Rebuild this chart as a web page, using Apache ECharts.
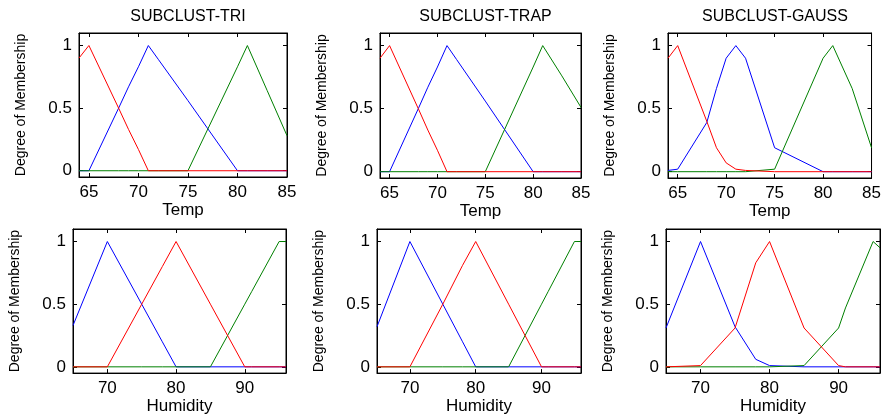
<!DOCTYPE html>
<html>
<head>
<meta charset="utf-8">
<script src="https://cdn.jsdelivr.net/npm/echarts@6/dist/echarts.min.js"></script>
<style>
html,body{margin:0;padding:0;background:#fff;}
#chart{width:884px;height:416px;}
</style>
</head>
<body>
<div id="chart"></div>
<script>
// ---- data ----
const panelTitles = ['SUBCLUST-TRI', 'SUBCLUST-TRAP', 'SUBCLUST-GAUSS'];
const tempX = [64, 65, 68, 69, 70, 71, 72, 75, 80, 81, 83, 85];
const humX  = [65, 70, 75, 78, 80, 85, 90, 91, 95, 96];
const tempTicks = [65, 70, 75, 80, 85];
const humTicks = [70, 80, 90];
const yTicks = [0, 0.5, 1];

// Temp - triangular
const triTempRed   = [0.9, 1, 0.5, 0.33, 0.17, 0, 0, 0, 0, 0, 0, 0];
const triTempBlue  = [0, 0, 0.5, 0.67, 0.83, 1, 0.89, 0.56, 0, 0, 0, 0];
const triTempGreen = [0, 0, 0, 0, 0, 0, 0, 0, 0.83, 1, 0.64, 0.28];
// Temp - trapezoidal
const trapTempRed   = [0.9, 1, 0.5, 0.33, 0.17, 0, 0, 0, 0, 0, 0, 0];
const trapTempBlue  = [0, 0, 0.5, 0.67, 0.83, 1, 0.89, 0.56, 0, 0, 0, 0];
const trapTempGreen = [0, 0, 0, 0, 0, 0, 0, 0, 0.83, 1, 0.76, 0.51];
// Temp - gaussian
const gaussTempRed   = [0.9, 1, 0.4, 0.19, 0.07, 0.02, 0.01, 0, 0, 0, 0, 0];
const gaussTempBlue  = [0.01, 0.02, 0.39, 0.66, 0.9, 1, 0.9, 0.19, 0, 0, 0, 0];
const gaussTempGreen = [0, 0, 0, 0, 0, 0, 0, 0.02, 0.9, 1, 0.66, 0.19];
// Humidity - triangular
const triHumBlue  = [0.33, 1, 0.5, 0.2, 0, 0, 0, 0, 0, 0];
const triHumRed   = [0, 0, 0.5, 0.8, 1, 0.5, 0, 0, 0, 0];
const triHumGreen = [0, 0, 0, 0, 0, 0, 0.5, 0.6, 1, 1];
// Humidity - trapezoidal
const trapHumBlue  = [0.32, 1, 0.5, 0.2, 0, 0, 0, 0, 0, 0];
const trapHumRed   = [0, 0, 0.5, 0.81, 1, 0.5, 0, 0, 0, 0];
const trapHumGreen = [0, 0, 0, 0, 0, 0, 0.5, 0.6, 1, 1];
// Humidity - gaussian
const gaussHumBlue  = [0.31, 1, 0.32, 0.06, 0.01, 0, 0, 0, 0, 0];
const gaussHumRed   = [0, 0.01, 0.31, 0.83, 1, 0.31, 0.01, 0, 0, 0];
const gaussHumGreen = [0, 0, 0, 0, 0, 0.01, 0.31, 0.47, 1, 0.95];

// ---- layout ----
const FONT = '"Liberation Sans", Arial, sans-serif';
const grids = [
  {left: 79,  top: 33,  width: 208, height: 144},
  {left: 380, top: 33,  width: 201, height: 145},
  {left: 668, top: 33,  width: 204, height: 145},
  {left: 73,  top: 229, width: 213, height: 145},
  {left: 377, top: 229, width: 204, height: 146},
  {left: 666, top: 229, width: 214, height: 145}
];
const panels = [
  {x: tempX, ticks: tempTicks, min: 64, max: 85, name: 'Temp', lines: [triTempBlue, triTempGreen, triTempRed]},
  {x: tempX, ticks: tempTicks, min: 64, max: 85, name: 'Temp', lines: [trapTempBlue, trapTempGreen, trapTempRed]},
  {x: tempX, ticks: tempTicks, min: 64, max: 85, name: 'Temp', lines: [gaussTempBlue, gaussTempGreen, gaussTempRed]},
  {x: humX, ticks: humTicks, min: 65, max: 96, name: 'Humidity', lines: [triHumBlue, triHumGreen, triHumRed]},
  {x: humX, ticks: humTicks, min: 65, max: 96, name: 'Humidity', lines: [trapHumBlue, trapHumGreen, trapHumRed]},
  {x: humX, ticks: humTicks, min: 65, max: 96, name: 'Humidity', lines: [gaussHumBlue, gaussHumGreen, gaussHumRed]}
];
const colors = ['#0000ff', '#008000', '#ff0000'];

const grid = [], xAxis = [], yAxis = [], series = [], title = [];
panels.forEach((p, i) => {
  const g = grids[i];
  grid.push(Object.assign({show: true, borderColor: '#000', borderWidth: 1, containLabel: false}, g));
  if (i < 3) {
    title.push({
      text: panelTitles[i], left: g.left + g.width / 2, top: 4, textAlign: 'center',
      textStyle: {fontFamily: FONT, fontSize: 16, fontWeight: 'normal', color: '#000'}
    });
  }
  const axLine = {show: true, onZero: false, lineStyle: {color: '#000', width: 1}};
  xAxis.push({
    gridIndex: i, type: 'value', min: p.min, max: p.max, position: 'bottom',
    name: p.name, nameLocation: 'middle', nameGap: 19,
    nameTextStyle: {fontFamily: FONT, fontSize: 17, color: '#000'},
    axisLine: axLine,
    axisTick: {show: true, inside: true, length: 4, customValues: p.ticks, lineStyle: {color: '#000'}},
    axisLabel: {show: true, customValues: p.ticks, margin: 7, fontFamily: FONT, fontSize: 17, color: '#000'},
    splitLine: {show: false}
  });
  xAxis.push({
    gridIndex: i, type: 'value', min: p.min, max: p.max, position: 'top',
    axisLine: axLine,
    axisTick: {show: true, inside: true, length: 4, customValues: p.ticks, lineStyle: {color: '#000'}},
    axisLabel: {show: false}, splitLine: {show: false}
  });
  yAxis.push({
    gridIndex: i, type: 'value', min: -0.05, max: 1.1, position: 'left',
    name: 'Degree of Membership', nameLocation: 'middle', nameGap: 51,
    nameTextStyle: {fontFamily: FONT, fontSize: 14, color: '#000'},
    axisLine: axLine,
    axisTick: {show: true, inside: true, length: 4, customValues: yTicks, lineStyle: {color: '#000'}},
    axisLabel: {show: true, customValues: yTicks, margin: 7, fontFamily: FONT, fontSize: 17, color: '#000'},
    splitLine: {show: false}
  });
  yAxis.push({
    gridIndex: i, type: 'value', min: -0.05, max: 1.1, position: 'right',
    axisLine: axLine,
    axisTick: {show: true, inside: true, length: 4, customValues: yTicks, lineStyle: {color: '#000'}},
    axisLabel: {show: false}, splitLine: {show: false}
  });
  p.lines.forEach((ys, k) => {
    series.push({
      type: 'line', xAxisIndex: 2 * i, yAxisIndex: 2 * i,
      data: p.x.map((v, j) => [v, ys[j]]),
      showSymbol: false, symbol: 'none',
      lineStyle: {color: colors[k], width: 1},
      itemStyle: {color: colors[k]},
      clip: true, silent: true
    });
  });
});

const chart = echarts.init(document.getElementById('chart'), null, {renderer: 'canvas'});
chart.setOption({
  animation: false,
  backgroundColor: '#fff',
  title, grid, xAxis, yAxis, series
});
</script>
</body>
</html>
